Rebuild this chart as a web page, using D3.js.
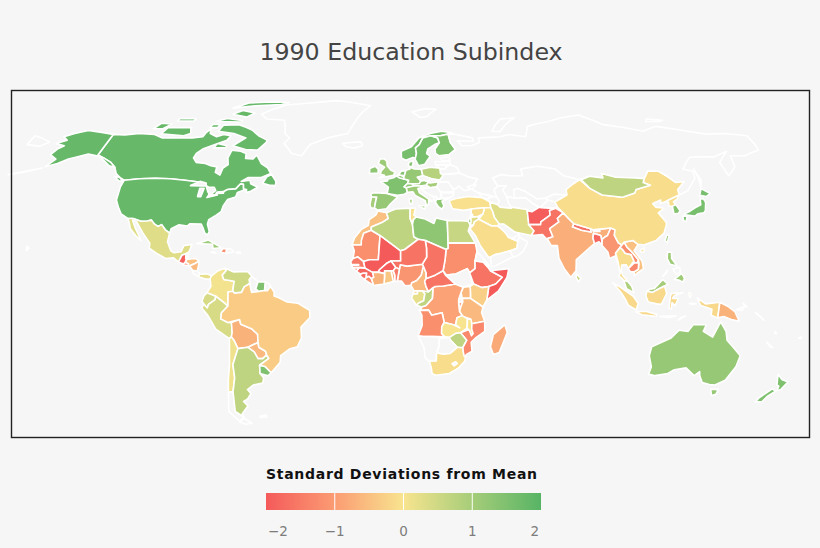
<!DOCTYPE html>
<html>
<head>
<meta charset="utf-8">
<script src="https://cdnjs.cloudflare.com/ajax/libs/d3/7.8.5/d3.min.js"></script>
<style>
html, body { margin: 0; padding: 0; background: #f6f6f6; overflow: hidden; }
</style>
</head>
<body>
<svg id="chart" width="820" height="548"></svg>
<script>
// values, null = no data (drawn white outline only)
const countries = ["Canada","Alaska","USA","Mexico","Guatemala","Belize","Honduras","ElSalvador","Nicaragua","CostaRica","Panama","Cuba","Haiti","DomRep","Jamaica","PuertoRico",
  "Colombia","Venezuela","Guyana","Suriname","FrGuiana","Ecuador","Peru","Bolivia","Paraguay","Chile","ChileSouth","Argentina","Uruguay","Brazil","Falklands",
  "Greenland","Iceland","Svalbard","Ireland","UK","Portugal","Spain","France","Belgium","Netherlands","Germany","Switzerland","Austria","Italy","Denmark","Norway","Sweden","Finland",
  "Poland","Czech","Slovakia","Hungary","Romania","Bulgaria","Balkans","Albania","Greece","Ukraine","Belarus","Lithuania","Latvia","Estonia","Turkey","Russia",
  "Kazakhstan","Uzbekistan","Turkmenistan","Kyrgyzstan","Tajikistan","Georgia","Azerbaijan","Iran","Iraq","Syria","Jordan","Israel","Lebanon","Saudi","Yemen","Oman","UAE",
  "Afghanistan","Pakistan","India","Nepal","Bangladesh","Bhutan","SriLanka","Myanmar","Thailand","Laos","Vietnam","Cambodia","MalaysiaW","MalaysiaE","Indonesia","PNG","Pacific","Philippines","PhilOther","Taiwan",
  "China","Mongolia","NKorea","SKorea","Japan","Australia","NewZealand",
  "Morocco","Mauritania","Mali","Algeria","Tunisia","Libya","Egypt","Sudan","SouthSudan","Eritrea","Ethiopia","Somalia","Kenya","Uganda","Rwanda","Burundi","Tanzania","DRC","Gabon","Congo","EqGuinea","Cameroon","CAR","Chad","Nigeria","Niger","Benin","Togo","Ghana","Burkina","IvoryCoast","Liberia","SierraLeone","Guinea","GuineaBissau","Senegal","Gambia","Angola","Zambia","Malawi","Mozambique","Zimbabwe","Namibia","Botswana","SouthAfrica","Lesotho","Madagascar","Lakes"];
const values = [1.8,1.8,1.8,0.3,-1.9,null,-0.5,-1.3,-0.6,null,0.2,1.1,-1.2,null,0.8,null,
  0.05,0.5,null,1.5,null,0.4,0.4,-0.7,-0.6,0.1,null,0.7,1.5,-0.35,null,
  null,null,null,1.3,1.1,1.0,1.2,1.5,1.3,1.4,1.2,1.3,1.2,1.1,1.4,1.6,1.6,1.5,
  0.8,null,null,1.0,null,null,null,null,1.3,null,null,null,null,null,-0.05,null,
  null,null,null,null,null,null,null,0.3,0.0,-0.1,0.3,1.7,null,-0.1,null,null,null,
  -1.95,-1.6,-0.75,-1.7,-1.8,null,0.6,-1.1,-0.1,-1.2,-0.5,-1.3,0.9,1.0,-0.15,-0.7,null,1.1,null,1.2,
  -0.1,0.7,-0.1,1.4,1.6,1.2,1.5,
  -0.5,-1.2,-2,0.7,-0.05,1.3,0.6,-1.2,null,null,-1.6,-2.2,-0.3,-0.6,null,-0.9,-0.6,-0.9,0.2,0.7,-0.2,-0.6,-1.6,-1.6,-1.1,-1.6,-1.5,-0.8,-0.4,-2,-0.7,-1.2,-1.7,-1.8,-1.5,-1.5,-1.6,-1.2,0.0,0.0,-1.3,0.7,null,null,-0.1,null,-0.8,null];
const legendTicks = [-2,-1,0,1,2];
const legendStops = [-2,-1,0,1,2];
const legendColors = ["#f45a5a","#fb9c73","#f8e48f","#a6cd79","#57b465"];

// rough coastlines and borders, lon lat pairs, rings split with |
const outlines = {
Canada:"-141 69.6,-135 69.3,-128 70,-120 69.5,-115 68,-108 68,-100 68,-95 68.5,-94 72,-92 70,-88 68.5,-85 69.5,-81 69,-82 67,-87 65,-92 63,-94 61,-94.5 59,-92.5 57,-88 56.5,-85 55.5,-82 55,-82 52.5,-79.5 51.3,-79 54.5,-77 56,-78 59,-77.5 62.5,-73 62,-70 61,-69.5 58.8,-66 58.5,-64.5 60.3,-61.5 56.5,-58 54.5,-56 52,-60 50.2,-66 50.2,-69 48.5,-65 49,-64.5 47.5,-61 46,-64 44.3,-66 43.7,-66 45,-67.5 45.3,-67.8 47.2,-69.2 47.4,-71 45.3,-74.7 45,-76.5 44,-79 43.7,-79 42.8,-83 42,-82.5 45.3,-84.5 46.5,-88.5 48.2,-95 49,-123 49,-125 50,-128 52,-130 54.8,-133 57,-137.5 59,-141 60.3|-59 47.7,-56 46.9,-53 46.7,-53 48.5,-55.5 51.5,-57.5 50.5|-62 66,-65 62.5,-71 62.8,-78 64.5,-73 68,-80 70,-89 71,-89 73.5,-81 73.7,-72 71.5,-67 69,-62 67|-117 69.8,-105 69,-102 70,-105 72.5,-117 72.5|-124 72,-119 72,-117 74,-123 74.3|-92 80.5,-80 81.5,-65 82,-61 82.8,-72 83,-85 82.6|-89 78,-80 76.8,-77 78.5,-85 79.5|-95 75,-81 74.8,-81 75.4,-90 76.2|-116 75.2,-107 75.2,-107 76.2,-116 76.2|-95 72.5,-91 72.5,-91 73.8,-95 73.8|-87 63.5,-81 63.5,-81 64.5,-86 65.5|-128 50.7,-125.5 50.2,-123.5 48.5,-125.5 48.8",
Alaska:"-141 69.6,-141 60.3,-137.5 59,-133 57,-130 54.8,-133 55.5,-137 58,-140 59.7,-146 60.8,-151 59.3,-154 58.5,-158 56.5,-163 55,-160 58.5,-164 60.5,-163 63,-161 64.5,-166 65.5,-162 67,-165 68.5,-156.5 71.3,-148 70.4",
USA:"-123 49,-95 49,-88.5 48.2,-84.5 46.5,-82.5 45.3,-83 42,-79 42.8,-79 43.7,-76.5 44,-74.7 45,-71 45.3,-69.2 47.4,-67.8 47.2,-67.5 45.3,-67 44.8,-70 43.7,-70.5 41.8,-74 40.7,-75.5 38,-76 35.5,-78 34,-81 32,-81.3 30,-80 26.8,-80.5 25.2,-81.8 26,-82.8 28,-84 30,-89 30.2,-90 29.2,-93.8 29.7,-97 28,-97.3 26,-99.5 27.5,-101.5 29.8,-103 29,-104.7 30,-106.5 31.8,-108.2 31.4,-111 31.3,-114.8 32.5,-117.1 32.5,-120.5 34.5,-122.5 37.5,-124.2 40.5,-124 46.2",
Mexico:"-117.1 32.5,-114.8 32.5,-111 31.3,-108.2 31.4,-106.5 31.8,-104.7 30,-103 29,-101.5 29.8,-99.5 27.5,-97.3 26,-97.8 22.5,-96 19,-94.5 18.2,-91.5 18.6,-90.5 21,-87 21.5,-88 18.5,-89 17.9,-91 17.2,-92.2 14.6,-94.5 16.2,-98 16,-102 18,-105.5 20,-105.5 22,-109 26,-113 31.2,-114.8 31.7,-113 28.5,-110 24,-109.5 23,-112 25,-115 28,-116 30.5",
Guatemala:"-92.2 14.6,-91 17.2,-89.2 17.8,-89.2 15.9,-88.3 15.7,-90 13.8",
Belize:"-89.2 17.9,-88.2 18.4,-88.3 16,-89.2 15.9",
Honduras:"-89.2 15,-88.3 15.7,-85 16,-83.2 15,-85 14,-87.3 13,-88.5 14",
ElSalvador:"-90 13.8,-89.3 14.4,-87.8 13.9,-87.8 13.2,-89.8 13.4",
Nicaragua:"-87.3 13,-85 14,-83.2 15,-83.7 11,-85.7 11.1",
CostaRica:"-85.7 11.1,-83.7 11,-82.6 9.6,-83 8.3,-85.7 10",
Panama:"-83 8.3,-82.6 9.4,-79.5 9.6,-77.4 8.7,-77.9 7.2,-80.3 7.3",
Cuba:"-85 21.8,-80 23.2,-75 20.7,-74.2 20.2,-77.7 19.9,-78 21.5",
Haiti:"-74.4 18.4,-71.8 18,-71.7 19.8,-73.3 19.9",
DomRep:"-71.8 18,-68.4 18.6,-69.9 19.8,-71.7 19.8",
Jamaica:"-78.4 18.4,-76.2 18,-76.4 18.3,-77.5 18.5",
PuertoRico:"-67.2 18,-65.6 18,-65.6 18.5,-67.2 18.5",
Colombia:"-77.4 8.7,-75 10.9,-72 12.2,-71.3 11,-72.8 9,-72 7,-67.5 6.2,-67.8 2,-69.8 1.7,-70 -4.2,-72 -2.5,-75 -0.1,-78.8 1.4,-77.3 4,-77.9 7.2",
Venezuela:"-72 12.2,-68 10.5,-62 10.7,-60 8.5,-61 7,-60.7 5.2,-63 3.8,-64 1.5,-67 1.2,-67.8 2,-67.5 6.2,-72 7,-72.8 9,-71.3 11",
Guyana:"-60 8.5,-57.2 6,-58 3,-56.7 1.9,-59.7 1.5,-60 2.5,-60.7 5.2,-61 7",
Suriname:"-57.2 6,-54 5.9,-54.2 2.3,-56.7 1.9,-58 3",
FrGuiana:"-54 5.9,-52 4.8,-51.7 4,-53 2.2,-54.2 2.3",
Ecuador:"-78.8 1.4,-75 -0.1,-75.3 -1.5,-78.3 -3.5,-79 -5,-80.3 -3.4,-81 -2.2,-80 0",
Peru:"-80.3 -3.4,-79 -5,-78.3 -3.5,-75.3 -1.5,-75 -0.1,-72 -2.5,-70 -4.2,-73 -7,-73.5 -9.5,-70.5 -11,-69 -11,-69 -15.5,-69.5 -17.5,-70.4 -18.3,-76 -14,-79 -8,-81.3 -5",
Bolivia:"-69 -11,-65.4 -9.8,-65 -11.8,-60.5 -13.8,-58 -16.3,-58 -20,-62.6 -22.2,-67 -22.8,-68.5 -19,-69.5 -17.5,-69 -15.5",
Paraguay:"-58 -20,-57.8 -22.2,-55 -24,-54.6 -25.6,-56.5 -27.3,-58.6 -27.3,-60 -24.3,-62.6 -22.2",
Chile:"-70.4 -18.3,-69.5 -17.5,-68.5 -19,-67 -22.8,-70 -30,-70 -36,-71.7 -42,-73.8 -42,-73 -37,-71.5 -30",
ChileSouth:"-71.7 -42,-72 -50,-68.6 -52.3,-71 -54,-75 -50,-73.8 -42|-68.6 -52.8,-65.5 -54.8,-68.6 -55.2,-71 -54.3",
Argentina:"-67 -22.8,-62.6 -22.2,-60 -24.3,-58.6 -27.3,-56.5 -27.3,-54.6 -25.6,-53.8 -27.2,-58.2 -30.3,-58.4 -34,-57 -36,-57.7 -38.2,-62 -39,-65 -41,-63.7 -42.7,-65.5 -45,-67.5 -46,-65.8 -47.8,-69 -51,-68.6 -52.3,-72 -50,-71.7 -42,-70 -36,-70 -30",
Uruguay:"-58.2 -30.3,-55.8 -30.9,-53.4 -33.7,-54.9 -35,-58.4 -34",
Brazil:"-60.7 5.2,-60 2.5,-59.7 1.5,-56.7 1.9,-54.2 2.3,-53 2.2,-51.7 4,-50 1.5,-50 0,-48 -0.7,-44.5 -2.5,-40 -3,-37 -4.8,-35 -6,-35 -9,-39 -13,-39 -18,-41 -22,-44.5 -23,-48.5 -26,-49 -29,-53.4 -33.7,-55.8 -30.9,-58.2 -30.3,-53.8 -27.2,-54.6 -25.6,-55 -24,-57.8 -22.2,-58 -20,-58 -16.3,-60.5 -13.8,-65 -11.8,-65.4 -9.8,-70.5 -11,-73.5 -9.5,-73 -7,-70 -4.2,-69.8 1.7,-67.8 2,-67 1.2,-64 1.5,-63 3.8",
Falklands:"-61 -52,-58 -51.5,-58 -52.3,-60.5 -52.5",
Greenland:"-73 78,-68 76,-58 75.5,-54 70,-51 68,-53 65.5,-48 61,-43 60,-40 65,-32 68,-22 70,-20 74,-18 77,-12 81.5,-25 83,-33 83.6,-50 82.5,-62 81.8",
Iceland:"-24 65.5,-22 64,-18 63.4,-14 64.6,-15 66.2,-20 66",
Svalbard:"12 79,20 80.3,26 80,20 77,16 76.7",
Ireland:"-10 52,-6 52.2,-6 54,-7.5 55.3,-10 54.3",
UK:"-5.5 50,1.3 51.2,1.7 52.8,0 53.5,-1.8 55.5,-2 57.5,-3.2 58.6,-5.2 58.5,-6 56.5,-3 54.8,-4.5 53.3,-5 51.7,-3 51.2",
Portugal:"-9.5 38.7,-9 37,-7.4 37.2,-7 39.5,-6.5 41.8,-8.8 41.9",
Spain:"-8.8 41.9,-6.5 41.8,-7 39.5,-7.4 37.2,-6 36.2,-2 36.8,-0.3 38.8,3 41.8,-1.7 43.3,-8 43.7,-9.2 43",
France:"-1.7 43.3,3 42.5,6 43,7.5 43.8,7 45.8,6 46.2,7.6 47.6,8.2 49,6 49.5,2.5 51,1.5 50.2,-1.5 49.4,-1.6 48.7,-4.7 48.4,-1.2 46",
Belgium:"2.5 51,4 51.4,6 50.6,6 49.5,4 50",
Netherlands:"3.5 51.4,6.2 51,7 53.3,4.8 53",
Germany:"6 50.6,6.2 51,7 53.5,8.9 54,8.6 54.9,11 54,14.2 53.9,14.8 51,12.2 50.3,13.8 48.7,13 47.5,7.6 47.6,8.2 49,6 49.5",
Switzerland:"6 46.2,7 45.8,10.4 46.5,9.6 47.5,7.6 47.6",
Austria:"9.6 47.5,10.4 46.8,13.5 46.5,16.2 46.9,17 48,16.9 48.6,15 49,13.8 48.7,13 47.5",
Italy:"7 45.8,7.5 43.8,10 44,11 42.5,15.5 40.2,16 38,17 39,17 40.4,18.4 40,16 41.7,13 43.6,12.3 45.4,13.7 45.8,13.5 46.5,10.4 46.5|12.5 38,15.6 38.2,15.1 36.7|8.2 41,9.7 41,9.6 39,8.5 39",
Denmark:"8.1 55.5,8.6 57.1,10.6 57.7,10.3 56,9.8 54.9",
Norway:"5 59,7 58,10.5 59.2,11.7 59,12.3 61,12 63.5,14 65,16 68,20 69,25 69,29 69.7,31 70.3,26 71,20 70,14 68,10 64,5 62",
Sweden:"11.2 59,13 55.5,16 56.2,18.8 59.8,17.2 61,18 63,21.5 65,24 65.8,23.5 68,20 69,16 68,14 65,12 63.5,12.3 61,11.7 59",
Finland:"24 65.8,21.5 63,21.5 61,23 60,28 60.5,31.5 62.8,29.5 66,29 69.7,25 69,20.8 69,23.5 68",
Poland:"14.2 53.9,18.5 54.8,23 54.4,24 50.8,22.5 49.1,19 49.4,14.8 51",
Czech:"12.2 50.3,14.8 51,18.8 49.6,16.9 48.6,15 49,13.8 48.7",
Slovakia:"16.9 48.6,18.8 49.6,22.5 49.1,22 48.4,18 47.8",
Hungary:"16.2 46.9,17 48,18 47.8,22 48.4,21 46.2,18 45.8",
Romania:"21 46.2,22 48,26.5 48.2,28.2 45.5,28.7 44,22.7 43.8",
Bulgaria:"22.7 43.8,28.7 43.6,28 42,26 41.5,22.7 41.4",
Balkans:"13.7 45.5,18 45.8,21 46.2,22.7 43.8,22.7 41.4,20.7 41,19.2 42,16 43.5",
Albania:"19.3 42,20.7 42,20.7 40.8,20 39.7,19.4 40.5",
Greece:"20 39.7,20.7 40.8,26.3 41.3,23 40,23.8 38,22.8 36.6,21.3 37.7",
Ukraine:"22.5 49.1,24 50.8,24 51.6,32 52.2,36 50.4,40 49.6,38 47.1,35 46.2,36.5 45.2,33.5 44.5,31 46.5,29.7 45.3,28.2 45.5,26.5 48.2,22 48.4",
Belarus:"23 52,24 51.6,32 52.2,31 54.8,28 56,25 54.2,23 54",
Lithuania:"21 56,26 56,25.5 54,23 54.2",
Latvia:"21 57.5,24.3 57.2,27.7 57.5,28 56,21 56",
Estonia:"23.5 59,28 59.4,27.5 57.6,24.3 57.9",
Turkey:"26.3 40.2,29 41.1,35 42,41.5 41.5,44.7 39.7,44.8 37.2,42 37.2,36 36.7,32.5 36.1,27.5 36.8",
Russia:"28 60,28 56,31 54.8,32 52.2,36 50.4,40 49.6,38 47.1,39 47.2,37 45,40 43.5,48 41.8,47 45,49 46.5,47 50,51 51.5,55 51,61 51,61 54,69 55.3,77 54,80 51,87 49.2,92 50.8,98 50,98 52,104 50.3,113 50,117 49.7,120 53,125 53,131 48,135 48.4,131 45,131 42.7,135.5 44.5,140.5 50,141 53,137 54,143 59.3,155 59.5,163 62,156 57,156.7 51,162 55,163 60,170 60,179 62.5,180 65,180 69,170 70,160 69.7,150 71.5,140 73,130 71,113 73.7,105 77.7,85 75,72 73,68 68.5,60 69.5,55 68.5,44 68,44 66,40 64.6,35 64.5,33 66.7,41 66.5,41 68,33 69.5,31 69.8,29 69.7,29.5 66,31.5 62.8,28 60.5|-180 69,-170 66.2,-173 64.3,-180 65|52 71,56 70.8,68 76.5,60 76|142 54,143 49,142 46,142 50|138 75,145 75,148 75.5,140 76",
Kazakhstan:"47 50,51 51.5,55 51,61 51,61 54,69 55.3,77 54,80 51,87 49.2,83 47,80 42.7,74 43,70 41.3,66 41,61 44.3,58 45.5,56 41.3,52.5 42,51 45,53 46.7,49 46.5",
Uzbekistan:"56 41.3,56 45,58 45.5,61 44.3,66 41,70 41.3,71 40.5,68 38,67 37.2,64 39,61 41.5",
Turkmenistan:"52.5 42,56 41.3,61 41.5,64 39,66.5 37.4,63 35.5,61 36,54 37.5,53 39",
Kyrgyzstan:"70 41.3,74 43,80 42.7,74 39.7,71 40.5",
Tajikistan:"68 38,71 40.5,74 39.7,75 37.2,71 37,67.5 37.2",
Georgia:"40 43.5,46 42,43.5 41,41.5 41.5",
Azerbaijan:"43.5 41,46 42,48 41.8,49 40,48 38.5,44.7 39.7",
Iran:"44.7 39.7,48 38.5,49 37.5,54 37,54 37.5,61 36.5,61 31.5,63 27,61.5 25,57 26,54.5 26.5,50 30,48 30,46 33,45.5 35.5,44.8 37.2",
Iraq:"44.8 37.2,45.5 35.5,46 33,48 30,47 29.2,44.5 29.2,39 32.2,41 34.5,42 37.2",
Syria:"36 36.7,42 37.2,41 34.5,38.8 33.4,36 33,35.8 35",
Jordan:"35.5 33,38.8 33.4,39 32.2,37 31,36.5 29.7,35 29.5",
Israel:"34.3 31.3,35 33,35.5 32.8,35.5 31,35 29.5",
Lebanon:"35.1 33.1,36 34.6,36.5 34,35.7 33",
Saudi:"34.8 28,36.5 29.7,37 31,39 32.2,44.5 29.2,47 29.2,48.5 28,50 26.5,51.5 24.3,55.5 22.7,55 20,52 19,48 18,45 17.4,43.3 16.6,42.5 16.4,39 21,37 25",
Yemen:"43.3 16.6,45 17.4,48 18,52 19,53 16.6,45 13,43.5 12.7",
Oman:"55 20,55.5 22.7,56.3 24.9,56.5 24.2,59.8 22.5,57.7 18.9,55 17,53 16.6,52 19",
UAE:"51.5 24.3,54 24.1,56.3 25.8,56.3 24.9,55.5 22.7",
Afghanistan:"61 36,63 35.5,66.5 37.4,67.5 37.2,71 37,75 37.2,71 36,71 34,69.5 33,66.5 31,66.2 29.8,60.9 29.8,61 31.5",
Pakistan:"60.9 29.8,66.2 29.8,66.5 31,69.5 33,71 34,71 36,74 37,77 35,74 32.5,74.5 31,70 28,71 24.5,68 23.7,66.5 25.4,61.5 25,63 27",
India:"77 35,79 32.5,81 30.2,80.2 28.8,84 27.3,88 26.5,88 28,92 27.8,97 28.3,95 25,94 24.5,92.5 23.5,92 25,89 26,88.5 24,89 21.8,86.5 20,80.5 15.5,80 11,77.5 8,75 12,73 16,72.7 21,70 21,68.5 23.7,71 24.5,70 28,74.5 31,74 32.5",
Nepal:"80.2 28.8,81 30.2,88 28,88 26.5,84 27.3",
Bangladesh:"88.5 24,89 26,92 25,92.5 21,91 22.5,89 21.8",
Bhutan:"89 27.3,92 27.8,92 26.8,89 26.8",
SriLanka:"80 9.7,81.8 7.5,80.6 6,79.8 8",
Myanmar:"92.2 21,92.5 23.5,94 24.5,95 25,97 28.3,98.7 27.5,98 25,99.5 22,101 21.4,100 20.3,97.8 18,98.5 15,99 10,98.5 14,97.5 17,95 16,94.5 18.5",
Thailand:"97.8 18,100 20.3,101 19.5,102 18,104.5 17.5,105.5 15,102.7 12,102 13.5,100 13.4,99.5 11,100 9,102 6,100.2 6.5,99.5 7.5,98.3 8.5,99 10,98.5 15",
Laos:"100 20.3,101 21.4,102 22.4,103 20.5,105 18.5,107.5 15.5,107 14.5,105.5 14.2,105.5 15,104.5 17.5,102 18,101 19.5",
Vietnam:"102 22.4,106 23,108 21.5,106 19,109 15,109.3 12,106.5 10,105 8.8,105 10.5,107 11.7,107.5 14,107.5 15.5,105 18.5,103 20.5",
Cambodia:"102.7 12,105.5 14.2,107.5 14.2,107 11.7,105 10.5,103.5 10.6",
MalaysiaW:"100.2 6.5,102 6,103.4 4,104 1.4,101 3",
MalaysiaE:"109.6 2,112 1.5,115 3,117.5 4.2,119 5,117 7,115 5,113 3.2,111 2.8",
Indonesia:"109.6 2,112 1.5,115 3,117.5 4.2,118 1,116 -3.5,114 -3.3,110.3 -2.5,109 0|95.3 5.5,98 4,103.5 0,106 -3,105.5 -5.8,102 -4,98.5 1.5|105.3 -6.5,110 -6.5,114.5 -7.7,114.4 -8.5,108 -7.8|119.5 0,120 1,125 1.4,121 0,120.5 -1,123 -1,122 -4,120.5 -2.8,120.5 -5.5,119.5 -5|131 -0.8,135 -3.3,141 -2.6,141 -9.1,138 -8,138 -5.5,133 -4,132 -2.5|124 -10,127 -8.4,125 -9|116 -8.5,119 -8.4,123 -8.2,120 -9|127.5 1.5,128.5 1,128 -0.7,127.5 0|128 -3,130.8 -3.2,129 -3.5",
PNG:"141 -2.6,145 -4.5,148 -6.5,150.5 -10.5,147 -9.8,143.5 -8.5,141 -9.1",
Pacific:"148.5 -5.7,152 -4.2,151 -6|151 -3,153 -4.5,152.5 -4.5|157 -7,161 -10,160 -9|164 -20,167 -22.3,166 -22|177.5 -18,178.5 -17.5,178.5 -18.3|-159 19,-158 20,-159 20.8|166.8 -15,167.5 -16,167 -16|-164 54.5,-172 52.5,-178 51.5,-172 52.8",
Philippines:"120.5 18.5,122.2 18.4,122 16,124 13,121 13.7,120 16|122 7,125.5 9.8,126.5 7.5,125.5 5.8,124 6.7",
PhilOther:"117.2 8.4,119.5 11.3,119 10|122 11.8,125 12.5,125 10.2,123 9.5",
Taiwan:"120 23,121 25.2,122 25,120.8 22",
China:"74 39.7,80 42.7,80 45,83 47,87 49.2,91 45.5,96 42.7,105 41.7,111 43.5,112 45,119 46.8,116 48,117 49.7,120 53,125 53,131 48,135 48.4,131 45,131 42.7,128 41.5,124.4 40,121.5 39,122 40.5,118 39,119 37.5,122.5 37,119.5 35,122 31,122 30,120 26,116 23,110.5 21.3,108 21.5,106 23,102 22.4,101 21.4,99.5 22,98 25,98.7 27.5,97 28.3,92 27.8,89 27.5,88 28,81 30.2,79 32.5,77 35,75 37.2|108.8 19.3,110.5 20.1,110.3 18.6,109 18.4",
Mongolia:"87.8 49.2,92 50.8,98 50,98 52,104 50.3,113 50,117 49.7,116 48,119 46.8,112 45,111 43.5,105 41.7,96 42.7,91 45.5",
NKorea:"124.4 40,128 41.5,130.5 42.5,129.7 41,127.5 39.7,128.3 38.6,126.5 37.8,125 38,125.3 39.5",
SKorea:"126.5 37.8,128.3 38.6,129.4 36,128.5 34.8,126.4 34.5",
Japan:"131 34.5,133.5 35.6,136.5 37.2,139.5 38.5,140 41,141.5 41,142 39.5,140.8 36,139.8 35,137 34.6,135.5 33.6,132 34|140 42,141.8 45.4,145.3 43.3,143 42,141 42.5|130 33.5,132 33.5,131 31.2,130 31.5",
Australia:"114 -22,122 -18,125 -14.5,129 -15,130.8 -12,136.5 -12,135.6 -15,140 -17.6,142.5 -10.7,145.5 -15,146.5 -19,150 -22.5,153.5 -26,153 -31,150 -37,146 -39,143.5 -38.8,140 -38,138 -35,137.5 -33.2,135.5 -35,131 -31.5,126 -32.3,123.5 -34,118 -35,115 -34.3,115.5 -31,113.5 -26|144.7 -40.8,148.2 -41,147.8 -43,146 -43.6",
NewZealand:"172.8 -34.4,175.5 -36.8,178.5 -37.7,176.5 -41,175 -41.5,175 -39.5,174 -39|172.7 -40.6,174.3 -41.8,171.5 -44,170 -46,167 -46.2,168 -44.5",
Morocco:"-5.9 35.8,-2 35.1,-1.2 32.5,-3.5 31,-8.7 28.7,-8.7 27.3,-12 26,-13 21.3,-17 21.3,-16 24,-13 27.7,-10 29.5,-9.7 32,-6.8 34",
Mauritania:"-16.5 16,-16 19,-17 21.3,-13 21.3,-13 23,-12 26,-8.7 27.3,-4.8 25,-5.5 15.5,-9.3 15.5,-12 14.8,-14.5 16.6",
Mali:"-4.8 25,1.2 21,4.2 19,4.2 15,0 15,-2 14,-5 11.5,-5.5 10.4,-8 10.3,-11.3 12.2,-12 14.8,-9.3 15.5,-5.5 15.5",
Algeria:"-2 35.1,2 36.7,8.6 37,8.5 32.5,9.5 30,10 24.5,11.9 23.5,6 19.5,4.2 19,1.2 21,-4.8 25,-8.7 27.3,-8.7 28.7,-3.5 31,-1.2 32.5",
Tunisia:"8.6 37,11 37,10.2 34,11.2 33.2,10 32,9.5 30,8.5 32.5",
Libya:"11.2 33.2,15.2 32.3,19 30.3,20 32.7,25 31.6,25 20,24 19.5,15 23,11.9 23.5,10 24.5,9.5 30,10 32",
Egypt:"25 31.6,31 31.5,34.3 31.3,35 29.5,34 27,36.9 22,25 22",
Sudan:"25 22,36.9 22,37.5 18.7,36.5 15,36.4 12,34 10,33 12,28 9.5,24 9,22.5 11,23.5 15.5,24 19.5,25 20",
SouthSudan:"24 9,28 9.5,33 12,34 10,35 5,31 3.7,27.5 5,23.5 9",
Eritrea:"36.5 15,37.5 18.7,43 12.7,40 14.5",
Ethiopia:"36.4 12,36.5 15,40 14.5,42 12.5,43 11,48 8,45 5,42 4,39 3.5,35.5 5,34 10",
Somalia:"41 -1.7,42 4,45 5,48 8,43 11,51 12,50 8,46 2",
Kenya:"34 4,35.5 5,39 3.5,42 4,41 -1.7,39.5 -4.6,34 -1,34 1",
Uganda:"31 3.7,34 4,34 1,34 -1,30.5 -1,30 1.5",
Rwanda:"29 -1.4,30.5 -1.2,30.8 -2.4,29 -2.7",
Burundi:"29 -2.7,30.8 -2.4,30 -4.5,29.2 -4.4",
Tanzania:"30.5 -1,34 -1,39.5 -4.6,39 -7,40.5 -10.5,35 -11.6,34 -9.5,31 -8.5,29.5 -6.5,30 -4.5,30.8 -2.4",
DRC:"12.2 -6,13 -5.8,13.1 -4.6,15 -4,17.7 -1,18 3.5,19 4,22.5 4.2,27.5 5,31 3.7,30 1.5,29 -1.4,29 -2.7,29.2 -4.4,29.5 -6.5,30.7 -8.2,28.5 -9,28 -12,29.8 -13.4,27 -12,23 -11,22 -7,17.5 -8,16.2 -5.9",
Gabon:"9.5 1,11.3 1,11.3 2.2,13.3 2.2,14.5 1,14 -2,11.7 -3,11 -3.9,8.8 -0.8",
Congo:"11 -3.9,11.7 -3,14 -2,14.5 1,13.3 2.2,16 1.8,18 3.5,17.7 -1,15 -4,13.1 -4.6",
EqGuinea:"9.5 1,11.3 1,11.3 2.2,9.8 2.2",
Cameroon:"8.5 4.5,9.8 2.2,11.3 2.2,13.3 2.2,16 1.8,15 4,14.5 6.2,15.2 7.5,15.2 10,14 13,13 9,11 6.5,8.9 5.5",
CAR:"14.5 6.2,15 4,16 1.8,18 3.5,19 4,22.5 4.2,27.5 5,23.5 9,22.5 11,19 9,15.2 7.5",
Chad:"13.5 13.7,14 13,15.2 10,15.2 7.5,19 9,22.5 11,23.5 15.5,24 19.5,15 23,15.5 20,15.5 16.5",
Nigeria:"2.7 6.3,3.6 11.7,4 13.5,7 13,10 13.3,13.5 13.7,14 13,13 9,11 6.5,8.9 5.5,8.5 4.5,6 4.3,4.5 6.3",
Niger:"0 15,4.2 15,4.2 19,6 19.5,11.9 23.5,15 23,15.5 20,15.5 16.5,13.5 13.7,10 13.3,7 13,4 13.5,3.6 11.7,2 12.5",
Benin:"1.6 6.2,2.7 6.3,3.6 11.7,2 12.5,0.9 11,1.6 9",
Togo:"0.3 6,1.6 6.2,1.6 9,0.9 11,0 11,0.6 8",
Ghana:"-3 5,1 6.1,0.6 8,0 11,-2.8 11,-2.8 8",
Burkina:"-5.5 10.4,-2.8 9.7,-2.8 11,0 11,0.9 11,2 12.5,0 15,-2 14,-5 11.5",
IvoryCoast:"-7.5 4.4,-3 5,-2.8 8,-2.8 9.7,-5.5 10.4,-8 10.3,-7.5 8,-8.5 7.5",
Liberia:"-11.4 6.9,-7.5 4.4,-8.5 7.5,-9.5 8.5,-10.7 8",
SierraLeone:"-13.2 8.5,-11.4 6.9,-10.7 8,-10.5 10,-12 10,-13.2 9.5",
Guinea:"-15 10.9,-13.2 9.5,-12 10,-10.5 10,-10.7 8,-9.5 8.5,-8.5 7.5,-7.5 8,-8 10.3,-11.3 12.2,-13.7 12.5",
GuineaBissau:"-16.7 12.3,-13.7 12.5,-15 10.9",
Senegal:"-17.5 14.7,-16.5 16,-14.5 16.6,-12 14.8,-11.3 12.2,-13.7 12.5,-16.7 12.3",
Gambia:"-16.8 13.6,-14 13.6,-14 13.3,-16.8 13.2",
Angola:"11.8 -17,13.5 -12.3,13.3 -8,12.2 -6,16.2 -5.9,17.5 -8,22 -7,23 -11,22 -13,22 -16,23.4 -17.5,18 -17.4,13.8 -17.3",
Zambia:"22 -13,23 -11,27 -12,29.8 -13.4,28 -12,28.5 -9,30.7 -8.2,33 -9.5,33 -13.5,30.2 -15.6,28 -16,25.3 -17.8,23.4 -17.5,22 -16",
Malawi:"33 -9.5,34.5 -9.6,35 -11.6,35 -14,35.7 -16,35 -17,34 -14.5,33 -13.5",
Mozambique:"35 -11.6,40.5 -10.5,40.7 -15,37 -17.8,35 -20,35.5 -24,33 -25.5,32.8 -26.8,32 -26,31.3 -22.4,33 -19,30.2 -15.6,33 -14.5,34 -14.5,35 -17,35.7 -16,35 -14",
Zimbabwe:"25.3 -17.8,28 -16,30.2 -15.6,33 -19,31.3 -22.4,29 -22.2,26 -19",
Namibia:"11.8 -17,13.8 -17.3,18 -17.4,23.4 -17.5,25.3 -17.8,21 -18.3,21 -22,20 -24.7,20 -28.4,17 -28.5,15 -27,14.5 -22.5",
Botswana:"21 -18.3,25.3 -17.8,26 -19,29 -22.2,26 -25,23 -25.3,20 -24.7,21 -22",
SouthAfrica:"17 -28.5,20 -28.4,20 -24.7,23 -25.3,26 -25,29 -22.2,31.3 -22.4,32 -26,32.8 -26.8,32.5 -28.5,30 -31.5,26 -34,20 -34.8,18.3 -34,18 -32",
Lesotho:"27 -29.6,28.5 -28.7,29.4 -29.5,28 -30.6",
Madagascar:"49.3 -12,50.5 -15.5,47.5 -24.5,45 -25.5,43.5 -22,44.5 -16.5",
Lakes:"-92 46.7,-88 48.5,-85 47.8,-84.7 46.5,-87 46.5|-87.8 42,-86.3 42,-85.5 45.5,-87.5 45.5|-84.5 46,-81 46,-80 44.6,-81.7 43,-82.5 43,-83.5 44|-83.5 41.6,-79 42.7,-79.3 43,-83 42.2|-79.7 43.3,-76.3 43.4,-76.3 44.2,-79.3 43.9"
};

const bg = "#f6f6f6";
const svg = d3.select("#chart");

// parse the outline strings into geojson, fix winding so nothing fills the whole globe
function toFeature(name, i) {
	const polys = outlines[name].split("|").map(ring => {
		const pts = ring.split(",").map(p => p.trim().split(" ").map(Number));
		pts.push(pts[0]);
		let poly = { type: "Polygon", coordinates: [pts] };
		if (d3.geoArea(poly) > 2 * Math.PI) poly = { type: "Polygon", coordinates: [pts.slice().reverse()] };
		return poly.coordinates;
	});
	return { type: "Feature", id: name, value: values[i], geometry: { type: "MultiPolygon", coordinates: polys } };
}
const features = countries.map(toFeature);

// pseudocylindrical: straight parallels, meridians pulled in towards the pole
const deg = 180 / Math.PI;
const shrink = d3.scaleLinear()
	.domain([0, 25, 36, 50, 60, 70, 83, 90])
	.range([1.0075, 0.982, 0.962, 0.932, 0.897, 0.846, 0.715, 0.6]);
// small correction of the parallels, fitted to the picture
const stretch = d3.scaleLinear()
	.domain([-90, -55, -44, -35, -11, -7, 6, 12, 25, 36, 49, 71, 83.6, 90])
	.range([-91, -55.6, -43.9, -34.9, -12, -7.8, 5.6, 11.2, 25.5, 36.2, 49.3, 70.4, 83.6, 90]);
const rawProjection = (lambda, phi) => [lambda * shrink(Math.abs(phi) * deg), stretch(phi * deg) / deg];
const projection = d3.geoProjection(rawProjection)
	.scale(133)
	.translate([391, 296])
	.precision(0.3);
const path = d3.geoPath(projection);

const color = d3.scaleLinear().domain(legendStops).range(legendColors).clamp(true);

// title
svg.append("text")
	.attr("x", 411).attr("y", 60)
	.attr("text-anchor", "middle")
	.attr("font-family", "'DejaVu Sans'")
	.attr("font-size", 23.7)
	.attr("fill", "#444")
	.text("1990 Education Subindex");

// map
svg.append("g")
	.selectAll("path")
	.data(features)
	.join("path")
	.attr("d", path)
	.attr("fill", d => d.value === null ? bg : color(d.value))
	.attr("stroke", "#fff")
	.attr("stroke-width", 1.6)
	.attr("stroke-linejoin", "round");

// frame
svg.append("rect")
	.attr("x", 11.5).attr("y", 90.5)
	.attr("width", 798).attr("height", 347)
	.attr("fill", "none")
	.attr("stroke", "#222")
	.attr("stroke-width", 1.4);

// legend
const legendX = d3.scaleLinear().domain([-2, 2]).range([266, 541]);
const defs = svg.append("defs");
const grad = defs.append("linearGradient").attr("id", "legendGrad");
grad.selectAll("stop")
	.data(legendStops)
	.join("stop")
	.attr("offset", d => (legendX(d) - 266) / 275)
	.attr("stop-color", d => color(d));

svg.append("text")
	.attr("x", 266).attr("y", 479)
	.attr("font-family", "'DejaVu Sans'")
	.attr("font-size", 14)
	.attr("font-weight", 700)
	.attr("fill", "#111")
	.attr("textLength", 271)
	.text("Standard Deviations from Mean");

svg.append("rect")
	.attr("x", 266).attr("y", 493)
	.attr("width", 275).attr("height", 17)
	.attr("fill", "url(#legendGrad)");

svg.append("g")
	.selectAll("line")
	.data(legendTicks.slice(1, -1))
	.join("line")
	.attr("x1", d => legendX(d)).attr("x2", d => legendX(d))
	.attr("y1", 493).attr("y2", 510)
	.attr("stroke", "#fff")
	.attr("stroke-width", 1);

svg.append("g")
	.selectAll("text")
	.data(legendTicks)
	.join("text")
	.attr("x", d => d === -2 ? 268 : d === 2 ? 539 : legendX(d))
	.attr("y", 536)
	.attr("text-anchor", d => d === -2 ? "start" : d === 2 ? "end" : "middle")
	.attr("font-family", "'DejaVu Sans'")
	.attr("font-size", 13.5)
	.attr("fill", "#7c7c7c")
	.text(d => d3.format("d")(d).replace("-", "\u2212"));
</script>
</body>
</html>
